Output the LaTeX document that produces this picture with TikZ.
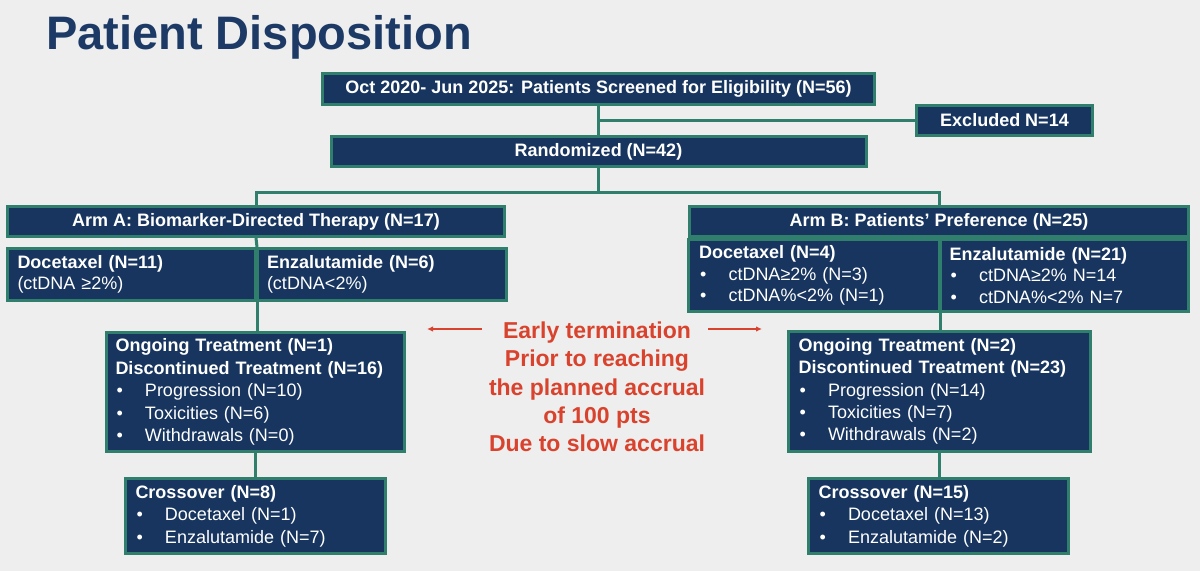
\documentclass[tikz,border=0pt]{standalone}
\usepackage{fontspec}
\setmainfont{Liberation Sans}
\usetikzlibrary{arrows.meta}
\definecolor{bgc}{HTML}{EDEEED}
\definecolor{navy}{HTML}{17355F}
\definecolor{tealc}{HTML}{2F7F6C}
\definecolor{titlec}{HTML}{1D3A66}
\definecolor{redc}{HTML}{D9432E}
\newcommand\bul{\makebox[29.5pt][l]{\hspace{1pt}\textbullet}}
\tikzset{
  box/.style={draw=tealc, line width=3pt, fill=navy, text=white, inner sep=0pt, rectangle},
  hdr/.style={box, font=\bfseries\fontsize{18}{22}\selectfont, align=center},
  lbox/.style={box, font=\fontsize{18}{22.4}\selectfont, align=left},
  cellbox/.style={box, font=\fontsize{18}{21.5}\selectfont, align=left},
  conn/.style={draw=tealc, line width=3pt},
  redarrow/.style={draw=redc, line width=1.8pt, -{Latex[length=6pt,width=5.5pt]}}
}
\begin{document}
\begin{tikzpicture}[x=1pt,y=-1pt]
\fill[bgc] (0,0) rectangle (1200,571);
\useasboundingbox (0,0) rectangle (1200,571);

\node[anchor=base west, text=titlec, font=\bfseries\fontsize{47}{50}\selectfont, inner sep=0pt] (title) at (46,49) {Patient Disposition};

\node[hdr, minimum width=552pt, minimum height=31pt] (scr) at (598.5,89) {Oct 2020- Jun 2025: Patients Screened for Eligibility (N=56)};
\node[hdr, minimum width=176pt, minimum height=30pt] (exc) at (1004.5,120.5) {Excluded N=14};
\node[hdr, minimum width=535pt, minimum height=30pt] (ran) at (598.5,151.5) {Randomized (N=42)};

\node[hdr, minimum width=497pt, minimum height=30pt] (armA) at (256,221.5) {Arm A: Biomarker-Directed Therapy (N=17)};
\node[cellbox, minimum width=248pt, minimum height=52pt, text width=228pt] (armAdoc) at (131.5,274.5) {\textbf{Docetaxel (N=11)}\\(ctDNA ≥2\%)};
\node[cellbox, minimum width=249pt, minimum height=52pt, text width=229pt] (armAenz) at (381.5,274.5) {\textbf{Enzalutamide (N=6)}\\(ctDNA<2\%)};

\node[hdr, minimum width=499pt, minimum height=30pt] (armB) at (939,221.5) {Arm B: Patients’ Preference (N=25)};
\node[cellbox, minimum width=251pt, minimum height=72pt, text width=229pt] (armBdoc) at (813.5,275.5) {\textbf{Docetaxel (N=4)}\\\bul ctDNA≥2\% (N=3)\\\bul ctDNA\%<2\% (N=1)};
\node[cellbox, minimum width=248pt, minimum height=72pt, text width=230pt] (armBenz) at (1064.5,275.5) {\textbf{Enzalutamide (N=21)}\\\bul ctDNA≥2\% N=14\\\bul ctDNA\%<2\% N=7};

\node[lbox, minimum width=298pt, minimum height=119pt, text width=280pt] (ongA) at (255.5,392) {\textbf{Ongoing Treatment (N=1)}\\\textbf{Discontinued Treatment (N=16)}\\\bul Progression (N=10)\\\bul Toxicities (N=6)\\\bul Withdrawals (N=0)};
\node[lbox, minimum width=260pt, minimum height=75pt, text width=240pt] (crA) at (255.5,516) {\textbf{Crossover (N=8)}\\\bul Docetaxel (N=1)\\\bul Enzalutamide (N=7)};

\node[lbox, minimum width=302pt, minimum height=120pt, text width=282pt] (ongB) at (939.5,391.5) {\textbf{Ongoing Treatment (N=2)}\\\textbf{Discontinued Treatment (N=23)}\\\bul Progression (N=14)\\\bul Toxicities (N=7)\\\bul Withdrawals (N=2)};
\node[lbox, minimum width=260pt, minimum height=75pt, text width=240pt] (crB) at (938.5,516) {\textbf{Crossover (N=15)}\\\bul Docetaxel (N=13)\\\bul Enzalutamide (N=2)};

\node[text=redc, font=\bfseries\fontsize{23}{28.3}\selectfont, align=center, inner sep=0pt] (note) at (597,387) {Early termination\\Prior to reaching\\the planned accrual\\of 100 pts\\Due to slow accrual};

\coordinate (hub) at (598.5,192);
\coordinate (la1) at (482,329);
\coordinate (la2) at (427,329);
\coordinate (ra1) at (708,329);
\coordinate (ra2) at (762,329);

\draw[conn] (scr.south) -- (ran.north);
\draw[conn] (scr.south |- exc.west) -- (exc.west);
\draw[conn] (ran.south) -- (hub);
\draw[conn] (armA.north) |- (hub) -| (armB.north);
\draw[conn] (armA.south) -- (armAdoc.north east);
\draw[conn] (armAdoc.south east) -- (armAdoc.south east |- ongA.north);
\draw[conn] (ongA.south) -- (crA.north);
\draw[conn] (armBdoc.south east) -- (armBdoc.south east |- ongB.north);
\draw[conn] (ongB.south) -- (ongB.south |- crB.north);

\draw[redarrow] (la1) -- (la2);
\draw[redarrow] (ra1) -- (ra2);
\end{tikzpicture}
\end{document}
